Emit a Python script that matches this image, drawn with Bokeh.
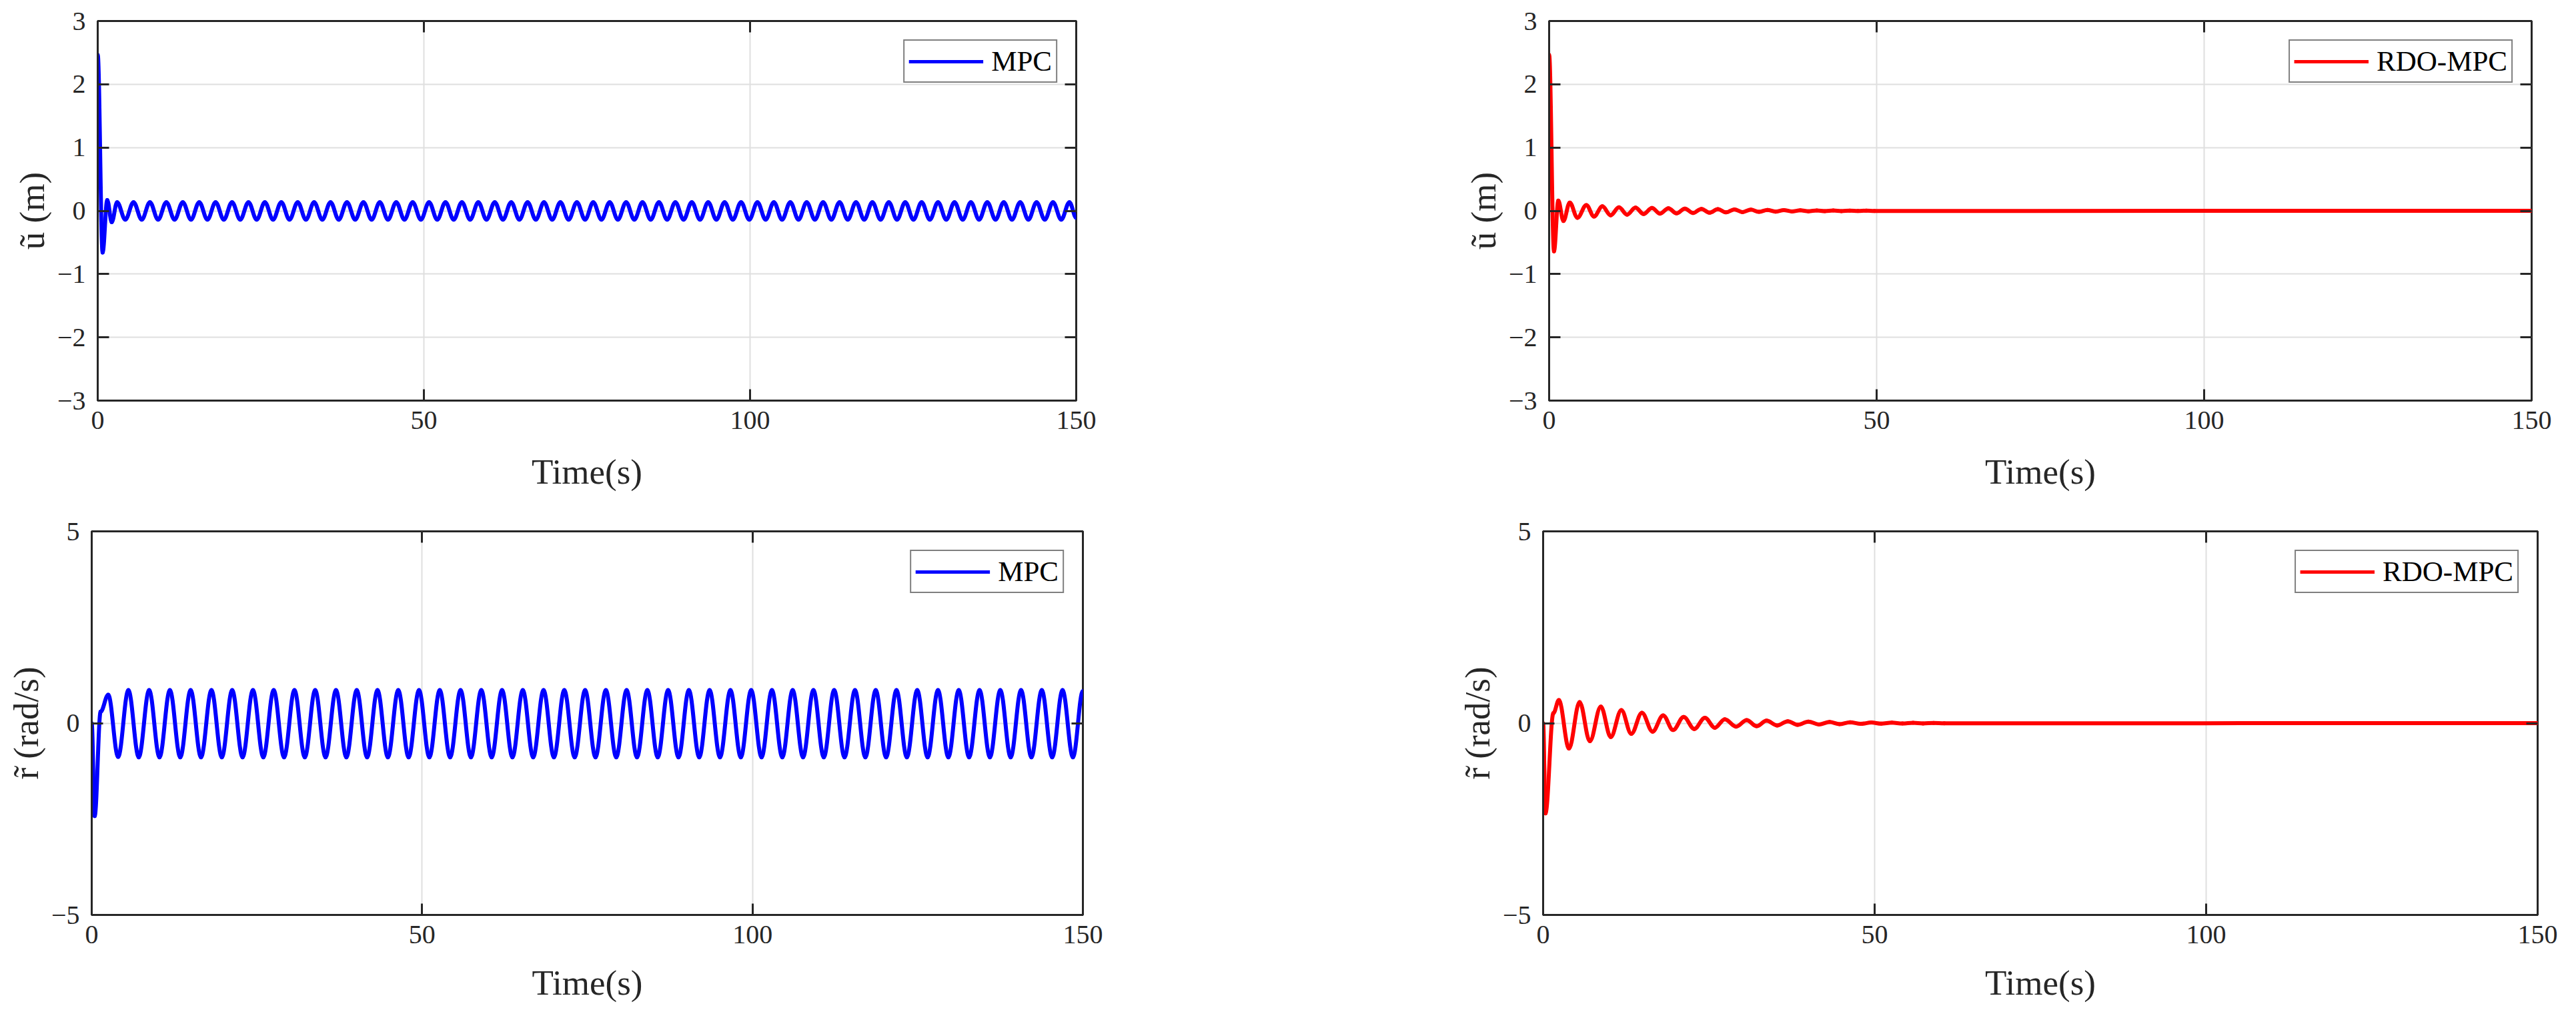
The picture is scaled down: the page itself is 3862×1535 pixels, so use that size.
import numpy as np
from bokeh.plotting import figure
from bokeh.models import (Range1d, LinearAxis, Legend, LegendItem,
                          ColumnDataSource, FixedTicker)
from bokeh.layouts import column, row
from bokeh.embed import file_html
from bokeh.resources import INLINE

# ---------------- data (extrema) ----------------
x_ticks = [0, 50, 100, 150]
x_tick_labels = ["0", "50", "100", "150"]
u_ticks = [-3, -2, -1, 0, 1, 2, 3]
u_tick_labels = ["\u22123", "\u22122", "\u22121", "0", "1", "2", "3"]
r_ticks = [-5, 0, 5]
r_tick_labels = ["\u22125", "0", "5"]

x_label = "Time(s)"
u_label = "\u0169 (m)"
r_label = "r\u0303 (rad/s)"

# MPC, u~ (m): time of each peak / trough and its value
u_mpc_t = [0, 0.75, 1.46, 2.15,
           2.97, 4.23, 5.49, 6.75, 8.00, 9.26, 10.52, 11.78, 13.04, 14.30,
           15.56, 16.82, 18.07, 19.33, 20.59, 21.85, 23.11, 24.37, 25.62, 26.88,
           28.14, 29.40, 30.66, 31.92, 33.17, 34.43, 35.69, 36.95, 38.21, 39.47,
           40.73, 41.99, 43.24, 44.50, 45.76, 47.02, 48.28, 49.54, 50.79, 52.05,
           53.31, 54.57, 55.83, 57.09, 58.34, 59.60, 60.86, 62.12, 63.38, 64.64,
           65.90, 67.16, 68.41, 69.67, 70.93, 72.19, 73.45, 74.71, 75.96, 77.22,
           78.48, 79.74, 81.00, 82.26, 83.51, 84.77, 86.03, 87.29, 88.55, 89.81,
           91.07, 92.33, 93.58, 94.84, 96.10, 97.36, 98.62, 99.88, 101.13, 102.39,
           103.65, 104.91, 106.17, 107.43, 108.68, 109.94, 111.20, 112.46, 113.72, 114.98,
           116.24, 117.50, 118.75, 120.01, 121.27, 122.53, 123.79, 125.05, 126.30, 127.56,
           128.82, 130.08, 131.34, 132.60, 133.85, 135.11, 136.37, 137.63, 138.89, 140.15,
           141.41, 142.67, 143.92, 145.18, 146.44, 147.70, 148.96, 150]
u_mpc_v = [2.47, -0.66, 0.17, -0.18,
           0.135, -0.14, 0.135, -0.14, 0.135, -0.14, 0.135, -0.14, 0.135, -0.14,
           0.135, -0.14, 0.135, -0.14, 0.135, -0.14, 0.135, -0.14, 0.135, -0.14,
           0.135, -0.14, 0.135, -0.14, 0.135, -0.14, 0.135, -0.14, 0.135, -0.14,
           0.135, -0.14, 0.135, -0.14, 0.135, -0.14, 0.135, -0.14, 0.135, -0.14,
           0.135, -0.14, 0.135, -0.14, 0.135, -0.14, 0.135, -0.14, 0.135, -0.14,
           0.135, -0.14, 0.135, -0.14, 0.135, -0.14, 0.135, -0.14, 0.135, -0.14,
           0.135, -0.14, 0.135, -0.14, 0.135, -0.14, 0.135, -0.14, 0.135, -0.14,
           0.135, -0.14, 0.135, -0.14, 0.135, -0.14, 0.135, -0.14, 0.135, -0.14,
           0.135, -0.14, 0.135, -0.14, 0.135, -0.14, 0.135, -0.14, 0.135, -0.14,
           0.135, -0.14, 0.135, -0.14, 0.135, -0.14, 0.135, -0.14, 0.135, -0.14,
           0.135, -0.14, 0.135, -0.14, 0.135, -0.14, 0.135, -0.14, 0.135, -0.14,
           0.135, -0.14, 0.135, -0.14, 0.135, -0.14, 0.135, -0.11]

# RDO-MPC, u~ (m)
u_rdo_t = [0, 0.74, 1.40, 2.18, 3.15, 4.32, 5.68, 6.85, 8.13, 9.38, 10.66, 11.90,
           13.18, 14.42, 15.70, 16.93, 18.21, 19.45, 20.73, 21.97, 23.25, 24.49,
           25.77, 27.00, 28.28, 29.52, 30.80, 32.04, 33.32, 34.55, 35.83, 37.07,
           38.35, 39.59, 40.87, 42.10, 43.38, 44.62, 45.90, 47.14, 48.42, 49.66, 150]
u_rdo_v = [2.47, -0.64, 0.16, -0.16, 0.13, -0.11, 0.09, -0.09, 0.07, -0.07, 0.055, -0.06,
           0.05, -0.05, 0.045, -0.045, 0.04, -0.04, 0.035, -0.035, 0.03, -0.03,
           0.026, -0.025, 0.022, -0.02, 0.018, -0.016, 0.014, -0.013, 0.011, -0.01,
           0.008, -0.007, 0.006, -0.005, 0.004, -0.004, 0.003, -0.003, 0.002, -0.002, 0]

# MPC, r~ (rad/s)
r_mpc_t = [0, 0.45, 1.35, 2.50, 4.00,
           5.55, 7.12, 8.69, 10.26, 11.83, 13.40, 14.97, 16.54, 18.12, 19.69,
           21.26, 22.83, 24.40, 25.97, 27.54, 29.11, 30.68, 32.25, 33.82, 35.39,
           36.97, 38.54, 40.11, 41.68, 43.25, 44.82, 46.39, 47.96, 49.53, 51.10,
           52.67, 54.24, 55.82, 57.39, 58.96, 60.53, 62.10, 63.67, 65.24, 66.81,
           68.38, 69.95, 71.52, 73.09, 74.67, 76.24, 77.81, 79.38, 80.95, 82.52,
           84.09, 85.66, 87.23, 88.80, 90.37, 91.94, 93.51, 95.08, 96.66, 98.23,
           99.80, 101.37, 102.94, 104.51, 106.08, 107.65, 109.22, 110.79, 112.36, 113.93,
           115.51, 117.08, 118.65, 120.22, 121.79, 123.36, 124.93, 126.50, 128.07, 129.64,
           131.21, 132.78, 134.36, 135.93, 137.50, 139.07, 140.64, 142.21, 143.78, 145.35,
           146.92, 148.49, 150]
r_mpc_v = [0, -2.42, 0.30, 0.74, -0.88,
           0.86, -0.89, 0.86, -0.89, 0.86, -0.89, 0.86, -0.89, 0.86, -0.89,
           0.86, -0.89, 0.86, -0.89, 0.86, -0.89, 0.86, -0.89, 0.86, -0.89,
           0.86, -0.89, 0.86, -0.89, 0.86, -0.89, 0.86, -0.89, 0.86, -0.89,
           0.86, -0.89, 0.86, -0.89, 0.86, -0.89, 0.86, -0.89, 0.86, -0.89,
           0.86, -0.89, 0.86, -0.89, 0.86, -0.89, 0.86, -0.89, 0.86, -0.89,
           0.86, -0.89, 0.86, -0.89, 0.86, -0.89, 0.86, -0.89, 0.86, -0.89,
           0.86, -0.89, 0.86, -0.89, 0.86, -0.89, 0.86, -0.89, 0.86, -0.89,
           0.86, -0.89, 0.86, -0.89, 0.86, -0.89, 0.86, -0.89, 0.86, -0.89,
           0.86, -0.89, 0.86, -0.89, 0.86, -0.89, 0.86, -0.89, 0.86, -0.89,
           0.86, -0.89, 0.84]

# RDO-MPC, r~ (rad/s)
r_rdo_t = [0, 0.35, 1.55, 2.37, 3.90, 5.50, 7.05, 8.70, 10.20, 11.80, 13.30, 14.90,
           16.50, 18.10, 19.60, 21.20, 22.80, 24.40, 25.90, 27.40, 29.10, 30.70,
           32.20, 33.70, 35.30, 36.90, 38.40, 40.00, 41.60, 43.20, 44.70, 46.30,
           47.90, 49.50, 51.00, 52.60, 54.20, 55.80, 57.30, 58.90, 60.50, 150]
r_rdo_v = [0, -2.35, 0.26, 0.60, -0.66, 0.55, -0.47, 0.43, -0.36, 0.34, -0.28, 0.27,
           -0.22, 0.20, -0.18, 0.16, -0.15, 0.14, -0.12, 0.10, -0.09, 0.08,
           -0.08, 0.065, -0.06, 0.05, -0.045, 0.04, -0.035, 0.03, -0.027, 0.022,
           -0.019, 0.016, -0.014, 0.011, -0.01, 0.008, -0.007, 0.005, -0.004, 0]

# ---------------- styling ----------------
FONT = "Liberation Serif"
AX = "#262626"
GRID = "#dfdfdf"
BLUE = "#0000ff"
RED = "#ff0000"
H = 0.364  # bezier handle fraction (smooth curve between extrema)


def bezier_source(t, v):
    t = np.asarray(t, dtype=float)
    v = np.asarray(v, dtype=float)
    dt = t[1:] - t[:-1]
    return ColumnDataSource(dict(
        x0=t[:-1], y0=v[:-1], x1=t[1:], y1=v[1:],
        cx0=t[:-1] + H * dt, cy0=v[:-1],
        cx1=t[1:] - H * dt, cy1=v[1:]))


def make_fig(t, v, color, name, yr, yticks, ylabels, ylab,
             fw, fh, bl, br, bt, bb, xlab_standoff):
    p = figure(frame_width=fw, frame_height=fh,
               min_border_left=bl, min_border_right=br,
               min_border_top=bt, min_border_bottom=bb,
               x_range=Range1d(0, 150), y_range=Range1d(*yr),
               output_backend="svg", toolbar_location=None,
               background_fill_color="white", border_fill_color="white")
    p.outline_line_color = AX
    p.outline_line_width = 3
    p.outline_line_alpha = 1

    xt = FixedTicker(ticks=x_ticks)
    yt = FixedTicker(ticks=yticks)

    for ax in (p.xaxis[0], p.yaxis[0]):
        ax.axis_line_color = AX
        ax.axis_line_width = 3
        ax.major_tick_line_color = AX
        ax.major_tick_line_width = 3
        ax.major_tick_in = 17
        ax.major_tick_out = 0
        ax.minor_tick_line_color = None
        ax.major_label_text_font = FONT
        ax.major_label_text_font_size = "40px"
        ax.major_label_text_color = AX
        ax.axis_label_text_font = FONT
        ax.axis_label_text_font_size = "53px"
        ax.axis_label_text_font_style = "normal"
        ax.axis_label_text_color = AX
    p.xaxis[0].ticker = xt
    p.yaxis[0].ticker = yt
    p.xaxis[0].major_label_overrides = dict(zip(x_ticks, x_tick_labels))
    p.yaxis[0].major_label_overrides = dict(zip(yticks, ylabels))
    p.xaxis[0].axis_label = x_label
    p.yaxis[0].axis_label = ylab
    p.xaxis[0].major_label_standoff = 16
    p.xaxis[0].axis_label_standoff = xlab_standoff
    p.yaxis[0].major_label_standoff = 18
    p.yaxis[0].axis_label_standoff = 6

    # mirrored inner ticks on top and right
    for loc, tk in (("above", xt), ("right", yt)):
        ax = LinearAxis(ticker=tk)
        ax.axis_line_color = None
        ax.major_tick_line_color = AX
        ax.major_tick_line_width = 3
        ax.major_tick_in = 17
        ax.major_tick_out = 0
        ax.minor_tick_line_color = None
        ax.major_label_text_alpha = 0
        ax.major_label_text_font_size = "1px"
        ax.major_label_standoff = 0
        p.add_layout(ax, loc)

    p.xgrid.ticker = xt
    p.ygrid.ticker = yt
    for g in (p.xgrid[0], p.ygrid[0]):
        g.grid_line_color = GRID
        g.grid_line_width = 2

    src = bezier_source(t, v)
    p.bezier(x0="x0", y0="y0", x1="x1", y1="y1", cx0="cx0", cy0="cy0",
             cx1="cx1", cy1="cy1", source=src, line_color=color,
             line_width=6, line_cap="round", line_join="round")

    # single-point line (draws nothing in the frame) used as the legend sample
    leg_r = p.line(x=t[:1], y=v[:1], line_color=color, line_width=5)
    legend = Legend(items=[LegendItem(label=name, renderers=[leg_r])],
                    location="top_right", margin=28, padding=6,
                    glyph_width=112, glyph_height=40, label_standoff=12,
                    label_text_font=FONT, label_text_font_size="43px",
                    label_text_color="black",
                    border_line_color="black", border_line_width=2.5,
                    background_fill_color="white", background_fill_alpha=1)
    p.add_layout(legend)
    return p


p1 = make_fig(u_mpc_t, u_mpc_v, BLUE, "MPC", (-3, 3), u_ticks, u_tick_labels, u_label,
              1467, 569, 146, 559, 31, 165, 32)
p2 = make_fig(u_rdo_t, u_rdo_v, RED, "RDO-MPC", (-3, 3), u_ticks, u_tick_labels, u_label,
              1473, 569, 150, 40, 31, 165, 32)
p3 = make_fig(r_mpc_t, r_mpc_v, BLUE, "MPC", (-5, 5), r_ticks, r_tick_labels, r_label,
              1486, 575, 137, 540, 31, 140, 27)
p4 = make_fig(r_rdo_t, r_rdo_v, RED, "RDO-MPC", (-5, 5), r_ticks, r_tick_labels, r_label,
              1491, 575, 150, 31, 31, 140, 27)

layout = column(row(p1, p2), row(p3, p4))
open("out.html", "w").write(file_html(layout, INLINE))
